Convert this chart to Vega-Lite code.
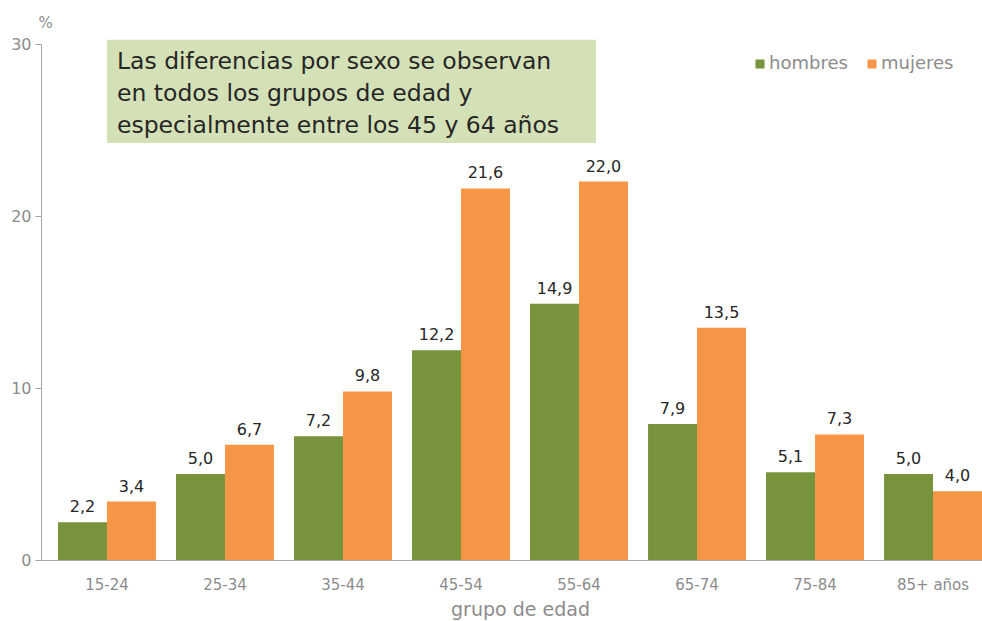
{
  "$schema": "https://vega.github.io/schema/vega-lite/v6.json",
  "width": 958,
  "height": 516,
  "autosize": {"type": "none"},
  "padding": {"left": 41, "top": 44, "right": 0, "bottom": 61},
  "background": "white",
  "config": {
    "view": {"stroke": null},
    "font": "DejaVu Sans",
    "locale": {"number": {"decimal": ",", "thousands": ".", "grouping": [3], "currency": ["", " €"]}},
    "axis": {"grid": false, "domainColor": "#A6A6A6", "tickColor": "#A6A6A6", "labelColor": "#8C8C8C", "titleColor": "#8C8C8C", "labelFont": "DejaVu Sans", "titleFont": "DejaVu Sans", "titleFontWeight": "normal"}
  },
  "data": {
    "values": [
      {"grupo": "15-24", "sexo": "hombres", "valor": 2.2},
      {"grupo": "15-24", "sexo": "mujeres", "valor": 3.4},
      {"grupo": "25-34", "sexo": "hombres", "valor": 5.0},
      {"grupo": "25-34", "sexo": "mujeres", "valor": 6.7},
      {"grupo": "35-44", "sexo": "hombres", "valor": 7.2},
      {"grupo": "35-44", "sexo": "mujeres", "valor": 9.8},
      {"grupo": "45-54", "sexo": "hombres", "valor": 12.2},
      {"grupo": "45-54", "sexo": "mujeres", "valor": 21.6},
      {"grupo": "55-64", "sexo": "hombres", "valor": 14.9},
      {"grupo": "55-64", "sexo": "mujeres", "valor": 22.0},
      {"grupo": "65-74", "sexo": "hombres", "valor": 7.9},
      {"grupo": "65-74", "sexo": "mujeres", "valor": 13.5},
      {"grupo": "75-84", "sexo": "hombres", "valor": 5.1},
      {"grupo": "75-84", "sexo": "mujeres", "valor": 7.3},
      {"grupo": "85+ años", "sexo": "hombres", "valor": 5.0},
      {"grupo": "85+ años", "sexo": "mujeres", "valor": 4.0}
    ]
  },
  "encoding": {
    "x": {
      "field": "grupo", "type": "nominal",
      "sort": ["15-24", "25-34", "35-44", "45-54", "55-64", "65-74", "75-84", "85+ años"],
      "scale": {"domain": ["15-24", "25-34", "35-44", "45-54", "55-64", "65-74", "75-84", "85+ años"], "paddingInner": 0.17, "paddingOuter": 0.144},
      "axis": {"title": "grupo de edad", "labelAngle": 0, "ticks": false, "labelPadding": 17, "labelFontSize": 15, "titleFontSize": 19, "titlePadding": 8}
    },
    "y": {
      "field": "valor", "type": "quantitative",
      "scale": {"domain": [0, 30], "nice": false},
      "axis": {"values": [0, 10, 20, 30], "title": "%", "titleAngle": 0, "titleX": 4, "titleY": -22, "titleAlign": "center", "titleBaseline": "middle", "titleFontSize": 15, "labelFontSize": 16, "tickSize": 6, "labelPadding": 4}
    }
  },
  "layer": [
    {
      "data": {"values": [{"y1": 30.25, "y2": 24.25}]},
      "mark": {"type": "rect", "color": "#D4E1B7", "x2Offset": 17},
      "encoding": {
        "x": {"datum": "15-24", "bandPosition": 0.5},
        "x2": {"datum": "55-64"},
        "y": {"field": "y1", "type": "quantitative"},
        "y2": {"field": "y2"}
      }
    },
    {
      "data": {"values": [{"texto": "Las diferencias  por sexo se observan\nen todos los grupos de edad y\nespecialmente entre los 45 y 64 años", "yt": 28.55}]},
      "mark": {"type": "text", "align": "left", "baseline": "alphabetic", "dx": 10, "fontSize": 23.5, "lineHeight": 32, "lineBreak": "\n", "color": "#262626"},
      "encoding": {
        "x": {"datum": "15-24", "bandPosition": 0.5},
        "y": {"field": "yt", "type": "quantitative"},
        "text": {"field": "texto"}
      }
    },
    {
      "mark": {"type": "bar"},
      "encoding": {
        "xOffset": {"field": "sexo", "scale": {"paddingInner": 0, "paddingOuter": 0}},
        "color": {
          "field": "sexo", "type": "nominal",
          "scale": {"domain": ["hombres", "mujeres"], "range": ["#77933C", "#F79646"]},
          "legend": {"title": null, "orient": "none", "direction": "horizontal", "legendX": 710, "legendY": 11, "symbolType": "square", "symbolSize": 81, "symbolStrokeWidth": 0, "symbolOpacity": 1, "labelFontSize": 18, "labelColor": "#8C8C8C", "labelOffset": 0, "columnPadding": 15, "padding": 0}
        }
      }
    },
    {
      "mark": {"type": "text", "baseline": "alphabetic", "dy": -10, "fontSize": 16, "color": "#262626"},
      "encoding": {
        "xOffset": {"field": "sexo", "scale": {"paddingInner": 0, "paddingOuter": 0}},
        "text": {"field": "valor", "type": "quantitative", "format": ".1f"}
      }
    }
  ]
}
